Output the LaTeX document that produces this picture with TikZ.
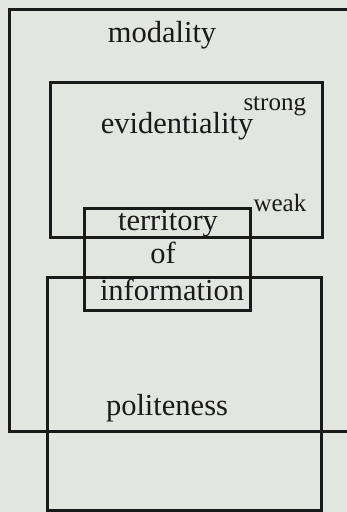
\documentclass[tikz,border=0pt]{standalone}
\usepackage{fontspec}
\setmainfont{Liberation Serif}
\definecolor{paper}{HTML}{E3E5E1}
\definecolor{ink}{HTML}{1A1A1A}
\begin{document}
\begin{tikzpicture}[x = 1pt, y = -1pt, line width = 3pt, draw = ink,
	label/.style = {inner sep = 0pt, anchor = base, text = ink, font = \fontsize{30.5}{34}\selectfont},
	tag/.style = {inner sep = 0pt, anchor = base west, text = ink, font = \fontsize{25}{28}\selectfont}]

	% Canvas
	
	\fill [paper] (0, 0) rectangle (347, 512);
	\useasboundingbox (0, 0) rectangle (347, 512);
	
	% Modality box (runs off the right edge)
	
	\draw [ink, line join = miter] (347, 9.5) -- (9.5, 9.5) -- (9.5, 431) -- (347, 431);
	\node [label] (modality) at (162, 42) {modality};
	
	% Evidentiality box with its scale
	
	\draw [ink] (50, 82) rectangle (322, 237);
	\node [label] (evid) at (177, 133) {evidentiality};
	\node [tag] (strong) at (242, 110) {strong};
	\node [tag] (weak) at (252, 211) {weak};
	
	% Territory of information
	
	\draw [ink] (84, 208) rectangle (250, 310);
	\node [label] (terr) at (168, 230) {territory};
	\node [label] (of) at (163, 263) {of};
	\node [label] (info) at (172, 300) {information};
	
	% Politeness box
	
	\draw [ink] (47.5, 277) rectangle (321, 510);
	\node [label] (polite) at (167, 415) {politeness};

\end{tikzpicture}
\end{document}
